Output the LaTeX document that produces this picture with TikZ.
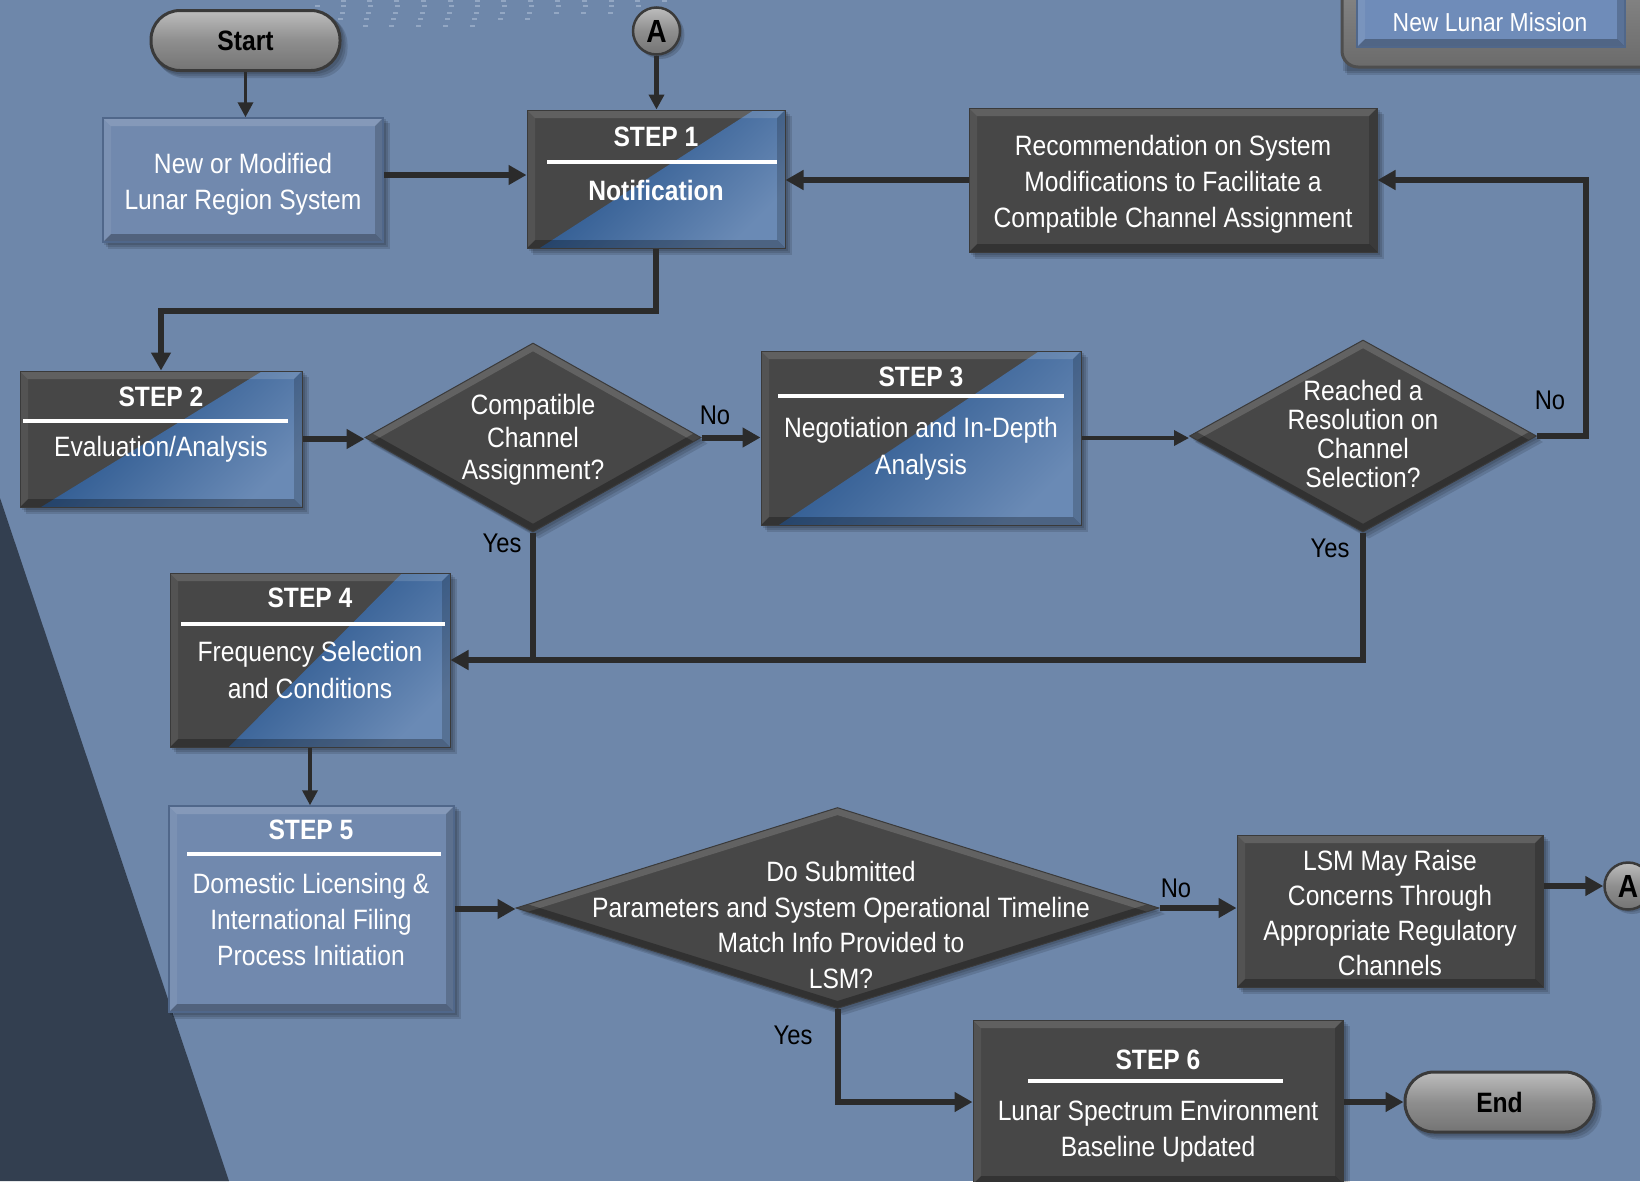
\documentclass[tikz,border=0pt]{standalone}
\usepackage{fontspec}
\setmainfont{Liberation Sans}[FakeStretch=0.88]
\usetikzlibrary{shapes.geometric,arrows.meta,calc}
\definecolor{bgc}{HTML}{6E87AA}
\definecolor{tric}{HTML}{333F50}
\definecolor{boxdark}{HTML}{474747}
\definecolor{edgec}{HTML}{3A3A3A}
\definecolor{stepblue}{HTML}{1F4E88}
\definecolor{steplight}{HTML}{6A8AB5}
\definecolor{lboxc}{HTML}{7189AE}
\definecolor{ledgec}{HTML}{50678A}
\definecolor{linec}{HTML}{2B2B2B}
\definecolor{pilltop}{HTML}{BDBDBD}
\definecolor{pillmid}{HTML}{8E8E8E}
\definecolor{pillbot}{HTML}{747474}
\definecolor{dotc}{HTML}{A3B5CE}
\definecolor{btnc}{HTML}{6F8CB9}
\definecolor{framec}{HTML}{7E7E7E}
\pgfdeclarelayer{bglayer}
\pgfdeclarelayer{shadowlayer}
\pgfsetlayers{bglayer,shadowlayer,main}
\newcommand\pcorners{%
  \path (path picture bounding box.south west) coordinate (pbl)
        (path picture bounding box.south east) coordinate (pbr)
        (path picture bounding box.north west) coordinate (ptl)
        (path picture bounding box.north east) coordinate (ptr);}
\newcommand\bevelit{%
  \fill[white,opacity=0.14] (ptl) -- (ptr) -- ([shift={(-8pt,-8pt)}]ptr) -- ([shift={(8pt,-8pt)}]ptl) -- cycle;
  \fill[black,opacity=0.28] (pbl) -- (pbr) -- ([shift={(-8pt,8pt)}]pbr) -- ([shift={(8pt,8pt)}]pbl) -- cycle;
  \fill[black,opacity=0.18] (ptr) -- (pbr) -- ([shift={(-8pt,8pt)}]pbr) -- ([shift={(-8pt,-8pt)}]ptr) -- cycle;
  \fill[white,opacity=0.07] (ptl) -- (pbl) -- ([shift={(8pt,8pt)}]pbl) -- ([shift={(8pt,-8pt)}]ptl) -- cycle;}
\begin{document}
\begin{tikzpicture}[x=1pt,y=-1pt,
  sz/.style 2 args={minimum width=#1pt, minimum height=#2pt},
  stepbox/.style 2 args={rectangle, inner sep=0pt, fill=boxdark, draw=edgec, line width=1pt,
    path picture={\pcorners
      \shade[top color=stepblue, middle color=stepblue, bottom color=steplight, shading angle=45]
        ($(pbl)!#1!(pbr)$) -- ($(ptl)!#2!(ptr)$) -- (ptr) -- (pbr) -- cycle;
      \bevelit}},
  darkbox/.style={rectangle, inner sep=0pt, fill=boxdark, draw=edgec, line width=1pt,
    path picture={\pcorners\bevelit}},
  lbox/.style={rectangle, inner sep=0pt, fill=lboxc, draw=ledgec, line width=1.5pt,
    path picture={\pcorners\bevelit}},
  btn/.style={rectangle, inner sep=0pt, fill=btnc, draw=ledgec, line width=1.5pt,
    path picture={\pcorners\bevelit}},
  frm/.style={rectangle, rounded corners=16pt, inner sep=0pt, draw=edgec!90, line width=3pt,
    top color=framec!90!white, bottom color=framec!85!black},
  dia/.style={diamond, inner sep=0pt, fill=boxdark, draw=edgec, line width=1pt,
    path picture={\pcorners
      \path ($(ptl)!0.5!(ptr)$) coordinate (pn) ($(pbl)!0.5!(pbr)$) coordinate (ps)
            ($(ptl)!0.5!(pbl)$) coordinate (pw) ($(ptr)!0.5!(pbr)$) coordinate (pe);
      \draw[white,opacity=0.15,line width=14pt] (pw) -- (pn) -- (pe);
      \draw[black,opacity=0.3,line width=14pt] (pw) -- (ps) -- (pe);}},
  pill/.style={rectangle, rounded corners=29pt, inner sep=0pt, draw=edgec, line width=3pt,
    top color=pilltop, bottom color=pillbot, middle color=pillmid, text=black,
    font=\bfseries\fontsize{28}{30}\selectfont},
  conn/.style={circle, inner sep=0pt, minimum size=47pt, draw=edgec, line width=2.5pt,
    top color=pilltop, bottom color=pillbot, middle color=pillmid, text=black,
    font=\bfseries\fontsize{32}{32}\selectfont},
  wt/.style={text=white, align=center, inner sep=0pt, font=\fontsize{28}{36}\selectfont},
  ttl/.style={text=white, inner sep=0pt, font=\bfseries\fontsize{28}{30}\selectfont},
  lbl/.style={text=black, inner sep=0pt, font=\fontsize{27}{30}\selectfont},
  rulew/.style={white, line width=4pt},
  arr/.style={draw=linec, line width=6pt, -{Triangle[length=18pt,width=19pt]}},
  arrs/.style={draw=linec, line width=3.5pt, -{Triangle[length=15pt,width=15pt]}},
  lnk/.style={draw=linec, line width=6pt}
]
\useasboundingbox (0,0) rectangle (1640,1181);
\begin{pgfonlayer}{bglayer}
  \fill[bgc] (0,0) rectangle (1640,1181);
  \fill[tric] (0,498) -- (229,1181) -- (0,1181) -- cycle;
  \foreach \yy/\xs/\nn in {1/343/13, 6/317/13, 13/342/11, 19/340/8, 26/365/5}{
    \foreach \k in {1,...,\nn}{
      \fill[dotc,opacity=0.7] ({\xs+26.8*(\k-1)-2.5},{\yy-1}) rectangle ++(5,2);
    }
  }
\end{pgfonlayer}

% nodes
\node[pill, sz={189}{60}] (start) at (245.5,40.5) {Start};
\node[conn] (atop) at (656.5,31) {A};

\node[lbox, sz={280}{124}] (nm) at (243,180) {};
\node[wt] (nmt) at (243,184) {New or Modified\\Lunar Region System};

\node[stepbox={0.05}{0.88}, sz={258}{138}] (s1) at (656,179) {};
\node[ttl] (s1h) at (656,137) {STEP 1};
\draw[rulew] (547,162) -- (777,162);
\node[ttl] (s1t) at (656,190) {Notification};

\node[darkbox, sz={408}{144}] (rec) at (1173,180) {};
\node[wt] (rect) at (1173,184) {Recommendation on System\\Modifications to Facilitate a\\Compatible Channel Assignment};

\node[frm, sz={320}{98}] (nlmf) at (1502,18) {};
\node[btn, sz={268}{77}] (nlmb) at (1491,8.5) {};
\node[wt, font=\fontsize{26}{30}\selectfont] (nlm) at (1490,22) {New Lunar Mission};

\node[stepbox={0.075}{0.86}, sz={282}{136}] (s2) at (161,439) {};
\node[ttl] (s2h) at (161,397) {STEP 2};
\draw[rulew] (23,421) -- (288,421);
\node[wt] (s2t) at (161,449) {Evaluation/Analysis};

\node[dia, sz={336}{189}] (d1) at (533,437.5) {};
\node[wt, font=\fontsize{28}{32.5}\selectfont] (d1t) at (533,440) {Compatible\\Channel\\Assignment?};

\node[stepbox={0.056}{0.87}, sz={320}{174}] (s3) at (921,438) {};
\node[ttl] (s3h) at (921,377) {STEP 3};
\draw[rulew] (778,396) -- (1064,396);
\node[wt, font=\fontsize{28}{37}\selectfont] (s3t) at (921,449) {Negotiation and In-Depth\\Analysis};

\node[dia, sz={347}{192}] (d2) at (1363,436) {};
\node[wt, font=\fontsize{28}{29.3}\selectfont] (d2t) at (1363,434) {Reached a\\Resolution on\\Channel\\Selection?};

\node[stepbox={0.21}{0.83}, sz={280}{174}] (s4) at (310,660) {};
\node[ttl] (s4h) at (310,598) {STEP 4};
\draw[rulew] (181,624) -- (445,624);
\node[wt, font=\fontsize{28}{37}\selectfont] (s4t) at (310,670) {Frequency Selection\\and Conditions};

\node[lbox, sz={285}{206}] (s5) at (311.5,909) {};
\node[ttl] (s5h) at (311,830) {STEP 5};
\draw[rulew] (187,854) -- (441,854);
\node[wt] (s5t) at (311,919) {Domestic Licensing \&\\International Filing\\Process Initiation};

\node[dia, sz={643}{201}] (d3) at (837.5,908) {};
\node[wt, font=\fontsize{28}{35.7}\selectfont] (d3t) at (841,925) {Do Submitted\\Parameters and System Operational Timeline\\Match Info Provided to\\LSM?};

\node[darkbox, sz={306}{152}] (lsm) at (1390,911) {};
\node[wt, font=\fontsize{28}{35.3}\selectfont] (lsmt) at (1390,913) {LSM May Raise\\Concerns Through\\Appropriate Regulatory\\Channels};

\node[conn] (aright) at (1628,886) {A};

\node[darkbox, sz={370}{164}] (s6) at (1158,1102) {};
\node[ttl] (s6h) at (1158,1060) {STEP 6};
\draw[rulew] (1028,1081) -- (1283,1081);
\node[wt] (s6t) at (1158,1131) {Lunar Spectrum Environment\\Baseline Updated};

\node[pill, sz={189}{60}] (endp) at (1499.5,1102) {End};

% labels
\node[lbl] (no1) at (715,415) {No};
\node[lbl] (no2) at (1550,400) {No};
\node[lbl] (no3) at (1176,888) {No};
\node[lbl] (yes1) at (502,543) {Yes};
\node[lbl] (yes2) at (1330,548) {Yes};
\node[lbl] (yes3) at (793,1035) {Yes};

% shadows
\begin{pgfonlayer}{shadowlayer}
  \foreach \n in {nm,s1,rec,s2,s3,s4,s5,s6,lsm,nlmf}{
    \foreach \d in {2,4,6}{
      \fill[black,opacity=0.12] ([shift={(\d pt,-\d pt)}]\n.south west) rectangle ([shift={(\d pt,-\d pt)}]\n.north east);
    }
  }
  \foreach \n in {d1,d2,d3}{
    \foreach \d in {2,4,6}{
      \fill[black,opacity=0.12] ([shift={(\d pt,-\d pt)}]\n.north) -- ([shift={(\d pt,-\d pt)}]\n.east)
        -- ([shift={(\d pt,-\d pt)}]\n.south) -- ([shift={(\d pt,-\d pt)}]\n.west) -- cycle;
    }
  }
  \foreach \n in {start,endp}{
    \foreach \d in {2,4,6}{
      \fill[black,opacity=0.12,rounded corners=29pt] ([shift={(\d pt,-\d pt)}]\n.south west) rectangle ([shift={(\d pt,-\d pt)}]\n.north east);
    }
  }
  \foreach \n in {atop,aright}{
    \foreach \d in {2,4}{
      \fill[black,opacity=0.15] ([shift={(\d pt,-\d pt)}]\n.center) circle (24pt);
    }
  }
\end{pgfonlayer}

% connectors
\draw[arrs] (start.south) -- (start.south |- nm.north);
\draw[arrs, line width=4.5pt] (atop.south) -- (atop.south |- s1.north);
\draw[arr] ([yshift=5pt]nm.east) -- ([yshift=5pt]nm.east -| s1.west);
\draw[arr] (rec.west) -- (rec.west -| s1.east);
\draw[arr] (s1.south) -- ++(0,62) -| (s2.north);
\draw[arr] (s2.east) -- (s2.east -| d1.west);
\draw[arr] (d1.east) -- (d1.east -| s3.west);
\draw[arrs] (s3.east) -- (s3.east -| d2.west);
\draw[arr] (d2.east) -- ++(49,0) |- (rec.east);
\draw[lnk] (d2.south) |- (d1.south |- s4.east);
\draw[arr] (d1.south) |- (s4.east);
\draw[arrs] (s4.south) -- (s4.south |- s5.north);
\draw[arr] (s5.east) -- (s5.east -| d3.west);
\draw[arr] (d3.east) -- (d3.east -| lsm.west);
\draw[arr] (aright.west -| lsm.east) -- (aright.west);
\draw[arr] (d3.south) |- (s6.west);
\draw[arr] (s6.east) -- (endp.west);
\end{tikzpicture}
\end{document}
